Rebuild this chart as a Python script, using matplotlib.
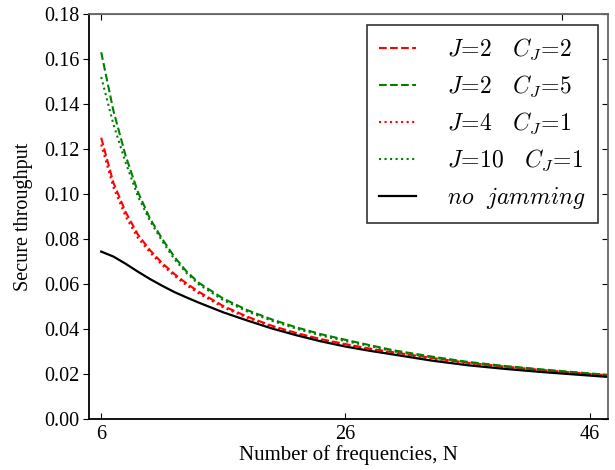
import matplotlib
matplotlib.use("Agg")
import matplotlib.pyplot as plt

plt.rcParams['font.family'] = ['Liberation Serif', 'DejaVu Serif']
plt.rcParams['mathtext.fontset'] = 'cm'

# number of frequencies
N = [6, 7, 8, 9, 10, 11, 12, 13, 14, 16, 18, 20, 22, 24, 26, 28, 30, 33, 36, 39, 42, 45, 48]

# secure throughput
j2_c2 = [0.125, 0.105, 0.092, 0.082, 0.0750, 0.0693, 0.0644, 0.0602, 0.0565, 0.0502, 0.0454,
         0.0414, 0.0382, 0.0355, 0.0333, 0.0313, 0.0296, 0.0272, 0.0250, 0.0233, 0.0218, 0.0205, 0.0192]
j2_c5 = [0.163, 0.137, 0.117, 0.101, 0.089, 0.080, 0.072, 0.0655, 0.0605, 0.0535, 0.0483,
         0.0442, 0.0407, 0.0377, 0.0352, 0.0328, 0.0305, 0.0278, 0.0254, 0.0236, 0.0221, 0.0207, 0.0194]
j4_c1 = [0.122, 0.103, 0.090, 0.0805, 0.0740, 0.0684, 0.0636, 0.0594, 0.0558, 0.0496, 0.0449,
         0.0410, 0.0378, 0.0352, 0.0330, 0.0310, 0.0293, 0.0269, 0.0248, 0.0231, 0.0216, 0.0203, 0.0191]
j10_c1 = [0.152, 0.131, 0.114, 0.099, 0.0880, 0.0790, 0.0710, 0.0648, 0.0598, 0.0528, 0.0477,
          0.0436, 0.0401, 0.0371, 0.0346, 0.0324, 0.0300, 0.0274, 0.0251, 0.0233, 0.0218, 0.0205, 0.0192]
no_jam = [0.0744, 0.0722, 0.0690, 0.0655, 0.0622, 0.0592, 0.0564, 0.0540, 0.0517, 0.0474, 0.0437,
          0.0402, 0.0372, 0.0345, 0.0322, 0.0303, 0.0286, 0.0260, 0.0239, 0.0223, 0.0209, 0.0197, 0.0185]

fig = plt.figure(figsize=(6.15, 4.70), dpi=100)
ax = fig.add_axes([0.1447, 0.1085, 0.8439, 0.8617])

ax.plot(N, j2_c2, '--', color='red', lw=1.5, label=r'$J\!=\!2\ \ \ C_J\!=\!2$')
ax.plot(N, j2_c5, '--', color='green', lw=1.5, label=r'$J\!=\!2\ \ \ C_J\!=\!5$')
ax.plot(N, j4_c1, ':', color='red', lw=1.5, label=r'$J\!=\!4\ \ \ C_J\!=\!1$')
ax.plot(N, j10_c1, ':', color='green', lw=1.5, label=r'$J\!=\!10\ \ \ C_J\!=\!1$')
ax.plot(N, no_jam, '-', color='black', lw=1.6, label=r'$no\ \ jamming$')

ax.set_xlim(5, 47.5)
ax.set_ylim(0, 0.18)
ax.set_xticks([6, 26, 46])
ax.set_yticks([i * 0.02 for i in range(10)])
ax.yaxis.set_major_formatter(matplotlib.ticker.FormatStrFormatter('%.2f'))
ax.tick_params(labelsize=14.5)
ax.tick_params(axis='x', direction='in', length=4, pad=4)
ax.tick_params(axis='y', direction='out', length=4, right=True, pad=3)

for s in ['top', 'right']:
    ax.spines[s].set_color('#666666')
    ax.spines[s].set_linewidth(1.3)
for s in ['left', 'bottom']:
    ax.spines[s].set_linewidth(1.3)

# right side ticks point inward
for t in ax.yaxis.get_major_ticks():
    t.tick2line.set_marker(matplotlib.lines.TICKLEFT)
    t.tick2line.set_markersize(4)

top = ax.secondary_xaxis('top')
top.set_xticks([6, 43.7])
top.set_xticklabels([])
top.tick_params(direction='in', length=4)
top.spines['top'].set_color('#666666')

ax.set_xlabel('Number of frequencies, N', fontsize=15, labelpad=1)
ax.set_ylabel('Secure throughput', fontsize=14.5, labelpad=8)

leg = ax.legend(loc='upper right', fontsize=17, frameon=True, fancybox=False,
                edgecolor='black', handlelength=1.6, labelspacing=0.5,
                borderpad=0.5, handletextpad=1.3, borderaxespad=0,
                bbox_to_anchor=(0.98, 0.973))
leg.get_frame().set_linewidth(1.2)

fig.savefig('out.png', dpi=100)
